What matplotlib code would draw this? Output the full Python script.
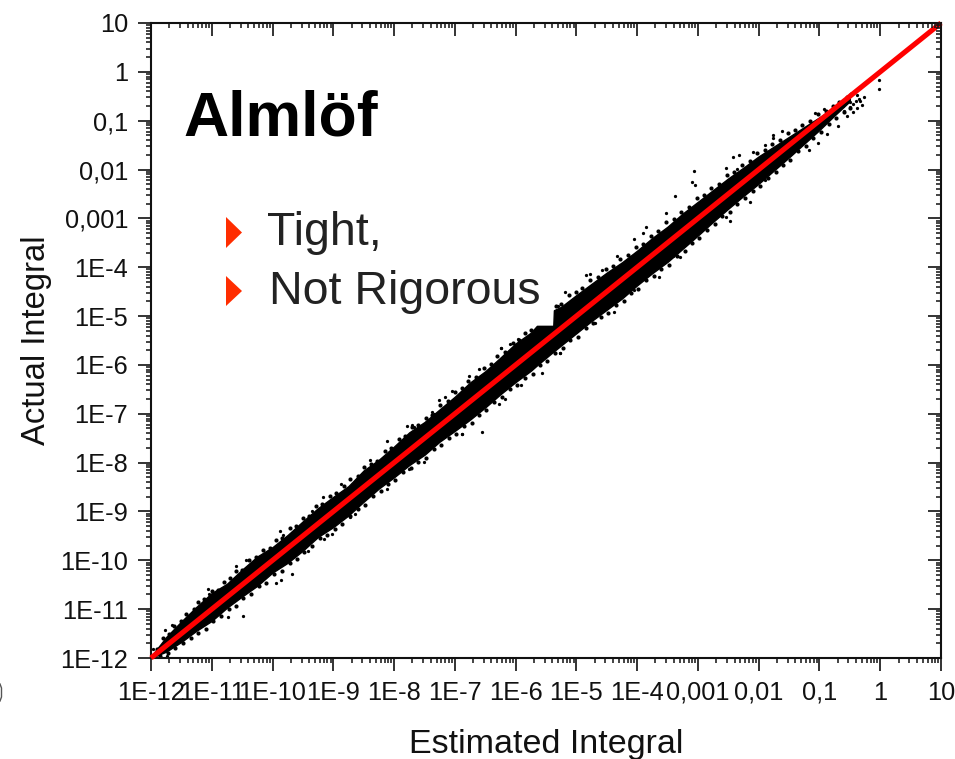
import numpy as np
import matplotlib
matplotlib.use('Agg')
from matplotlib import pyplot as plt
from matplotlib.lines import Line2D
from matplotlib.patches import Polygon
from matplotlib.ticker import FixedLocator, FixedFormatter, LogLocator, NullFormatter

plt.rcParams['font.family'] = ['Liberation Sans', 'DejaVu Sans']

W, H = 955, 759

tick_exp = [-12, -11, -10, -9, -8, -7, -6, -5, -4, -3, -2, -1, 0, 1]
tick_labels = ['1E-12', '1E-11', '1E-10', '1E-9', '1E-8', '1E-7', '1E-6', '1E-5',
               '1E-4', '0,001', '0,01', '0,1', '1', '10']

# dense part of the cloud: log10(estimated), and how far the edges sit from the diagonal
band_exp = [-12, -11.75, -11.5, -11.25, -11, -10.75, -10.5, -10.25, -10, -9.75, -9.5, -9.25,
            -9, -8.75, -8.5, -8.25, -8, -7.75, -7.5, -7.25, -7, -6.75, -6.5, -6.25, -6,
            -5.75, -5.65, -5.38, -5.37, -5.25, -5, -4.75, -4.5, -4.25, -4, -3.75, -3.5,
            -3.25, -3, -2.75, -2.5, -2.25, -2, -1.75, -1.5, -1.25, -1, -0.75, -0.5]
upper_gap = [0.03, 0.18, 0.25, 0.30, 0.33, 0.27, 0.31, 0.33, 0.27, 0.27, 0.30, 0.32,
             0.30, 0.27, 0.34, 0.31, 0.33, 0.37, 0.33, 0.34, 0.35, 0.39, 0.37, 0.40, 0.44,
             0.41, 0.45, 0.18, 0.49, 0.44, 0.43, 0.41, 0.39, 0.35, 0.34, 0.35, 0.33,
             0.35, 0.34, 0.33, 0.32, 0.29, 0.27, 0.22, 0.17, 0.12, 0.07, 0.02, 0.00]
lower_gap = [0.00, 0.12, 0.17, 0.19, 0.24, 0.22, 0.24, 0.27, 0.25, 0.30, 0.30, 0.27,
             0.32, 0.33, 0.30, 0.28, 0.30, 0.30, 0.34, 0.32, 0.35, 0.37, 0.37, 0.35, 0.35,
             0.37, 0.36, 0.35, 0.35, 0.35, 0.35, 0.35, 0.37, 0.39, 0.37, 0.37, 0.39,
             0.37, 0.35, 0.32, 0.30, 0.29, 0.29, 0.27, 0.25, 0.22, 0.19, 0.14, 0.10]

# loose dots on the rough edge of the band
upper_dots_est = [-11.9, -11.8, -11.7, -11.62, -11.5, -11.42, -11.3, -11.22, -11.12, -11.0, -10.9, -10.8,
                  -10.7, -10.6, -10.5, -10.38, -10.28, -10.15, -10.05, -9.95, -9.85, -9.72, -9.62, -9.5,
                  -9.4, -9.28, -9.18, -9.05, -8.95, -8.83, -8.72, -8.6, -8.5, -8.38, -8.28, -8.15,
                  -8.05, -7.92, -7.82, -7.7, -7.6, -7.48, -7.38, -7.25, -7.12, -7.0, -6.88, -6.78,
                  -6.65, -6.52, -6.4, -6.3, -6.18, -6.05, -5.95, -5.85, -5.75, -5.34, -5.25, -5.12,
                  -5.0, -4.9, -4.78, -4.65, -4.52, -4.4, -4.28, -4.15, -4.02, -3.9, -3.78, -3.65,
                  -3.52, -3.4, -3.28, -3.15, -3.02, -2.9, -2.78, -2.65, -2.52, -2.4, -2.28, -2.15,
                  -2.02, -1.9, -1.78, -1.65, -1.52, -1.4, -1.28, -1.15, -1.02, -0.9, -0.78, -0.68,
                  -0.55, -0.48]
upper_dots_gap = [0.08, 0.20, 0.20, 0.28, 0.26, 0.33, 0.30, 0.37, 0.32, 0.38, 0.30, 0.36,
                  0.33, 0.38, 0.31, 0.39, 0.35, 0.37, 0.31, 0.36, 0.30, 0.38, 0.33, 0.36,
                  0.31, 0.40, 0.34, 0.37, 0.32, 0.35, 0.38, 0.33, 0.40, 0.36, 0.32, 0.39,
                  0.35, 0.41, 0.37, 0.43, 0.38, 0.40, 0.35, 0.42, 0.39, 0.44, 0.40, 0.46,
                  0.41, 0.45, 0.42, 0.48, 0.44, 0.50, 0.45, 0.50, 0.47, 0.54, 0.50, 0.56,
                  0.50, 0.47, 0.52, 0.46, 0.48, 0.43, 0.45, 0.40, 0.43, 0.38, 0.42, 0.40,
                  0.44, 0.38, 0.42, 0.39, 0.43, 0.37, 0.41, 0.36, 0.40, 0.35, 0.37, 0.33,
                  0.36, 0.30, 0.30, 0.25, 0.26, 0.20, 0.20, 0.14, 0.15, 0.09, 0.08, 0.06,
                  0.04, 0.03]
lower_dots_est = [-11.85, -11.72, -11.6, -11.48, -11.35, -11.22, -11.1, -10.98, -10.85, -10.72, -10.6, -10.48,
                  -10.35, -10.22, -10.1, -9.98, -9.85, -9.72, -9.6, -9.48, -9.35, -9.22, -9.1, -8.98,
                  -8.85, -8.72, -8.6, -8.48, -8.35, -8.22, -8.1, -7.98, -7.85, -7.72, -7.6, -7.48,
                  -7.35, -7.22, -7.1, -6.98, -6.85, -6.72, -6.6, -6.48, -6.35, -6.22, -6.1, -5.98,
                  -5.85, -5.72, -5.6, -5.48, -5.35, -5.22, -5.1, -4.98, -4.85, -4.72, -4.6, -4.48,
                  -4.35, -4.22, -4.1, -3.98, -3.85, -3.72, -3.6, -3.48, -3.35, -3.22, -3.1, -2.98,
                  -2.85, -2.72, -2.6, -2.48, -2.35, -2.22, -2.1, -1.98, -1.85, -1.72, -1.6, -1.48,
                  -1.35, -1.22, -1.1, -0.98, -0.85, -0.72, -0.6, -0.5]
lower_dots_gap = [0.10, 0.17, 0.20, 0.22, 0.25, 0.27, 0.30, 0.27, 0.30, 0.28, 0.33, 0.30,
                  0.34, 0.30, 0.36, 0.31, 0.37, 0.34, 0.38, 0.34, 0.36, 0.33, 0.39, 0.37,
                  0.41, 0.38, 0.35, 0.38, 0.34, 0.37, 0.33, 0.38, 0.35, 0.40, 0.38, 0.42,
                  0.37, 0.41, 0.39, 0.44, 0.40, 0.46, 0.42, 0.45, 0.40, 0.44, 0.40, 0.44,
                  0.41, 0.46, 0.41, 0.43, 0.40, 0.44, 0.40, 0.44, 0.40, 0.43, 0.41, 0.46,
                  0.43, 0.47, 0.42, 0.46, 0.42, 0.45, 0.43, 0.47, 0.42, 0.45, 0.41, 0.43,
                  0.38, 0.40, 0.36, 0.38, 0.35, 0.37, 0.33, 0.36, 0.33, 0.34, 0.31, 0.32,
                  0.28, 0.30, 0.25, 0.26, 0.22, 0.23, 0.22, 0.25]

# stray points outside the dense band (log10 values)
stray_est = [-10.49, -10.73, -11.66, -11.77, -11.07, -11.05, -10.60, -10.43, -9.68, -9.94,
             -9.86, -9.88, -9.82, -9.41, -9.16, -9.02, -9.35, -9.17, -8.88, -8.72,
             -8.64, -8.39, -8.12, -8.12, -7.76, -7.68, -7.51, -7.35, -6.88, -11.96,
             -11.74, -6.55, -5.56, -5.27, -5.91, -6.18, -6.27, -6.24, -6.76, -7.05,
             -7.16, -7.26, -7.38, -7.79, -7.70, -5.96, -6.09, -6.60, -6.89, -0.02,
             -0.02, -0.26, -0.39, -0.30, -0.39, -0.55, -0.45, -0.69, -0.88, -1.02,
             -0.93, -1.08, -1.62, -1.77, -1.77, -1.89, -2.09, -2.33, -2.43, -2.53,
             -2.36, -3.06, -3.10, -3.04, -3.37, -3.52, -3.86, -3.91, -4.05, -4.33,
             -4.84, -4.78, -4.58, -5.19, -5.31, -6.24, -2.47, -2.15, -2.53, -3.29,
             -3.41, -3.64, -4.06, -4.38, -4.69, -5.27, -1.18, -1.89, -0.45, -0.50,
             -0.40, -0.35, -0.60, -0.62, -0.50, -0.33]
stray_act = [-11.14, -11.16, -11.32, -11.43, -10.59, -10.68, -10.12, -9.99, -10.29, -10.46,
             -10.41, -9.39, -9.49, -9.80, -9.56, -9.46, -9.00, -8.71, -8.43, -9.11,
             -9.05, -7.95, -7.55, -8.53, -8.13, -7.27, -7.99, -7.00, -7.41, -11.81,
             -11.95, -7.37, -6.16, -5.75, -6.41, -6.70, -6.81, -5.66, -6.23, -6.53,
             -6.65, -6.72, -6.96, -7.26, -7.22, -5.46, -5.58, -6.09, -7.42, -0.17,
             -0.36, -0.52, -0.48, -0.68, -0.75, -0.91, -0.82, -1.11, -1.27, -1.45,
             -0.77, -0.85, -1.21, -1.30, -1.36, -1.50, -1.65, -1.70, -1.74, -1.96,
             -1.98, -2.03, -2.26, -2.32, -2.54, -2.88, -3.17, -3.29, -3.42, -3.76,
             -4.16, -4.14, -4.06, -4.51, -4.79, -5.66, -3.05, -2.66, -2.97, -3.80,
             -3.78, -4.19, -4.46, -4.91, -5.15, -5.75, -1.60, -2.22, -0.65, -0.62,
             -0.60, -0.55, -0.80, -0.70, -0.72, -0.60]

diag_exp = [-12, 1]


def fx(px):
    return px / W


def fy(py):
    return 1 - py / H


band_exp = np.array(band_exp)
upper = 10.0 ** (band_exp + np.array(upper_gap))
lower = 10.0 ** (band_exp - np.array(lower_gap))
diag = 10.0 ** np.array(diag_exp, dtype=float)
up_x = np.array(upper_dots_est)
low_x = np.array(lower_dots_est)
up_y = up_x + np.array(upper_dots_gap)
low_y = low_x - np.array(lower_dots_gap)

fig = plt.figure(figsize=(W / 100, H / 100), dpi=100, facecolor='white')
rect = [fx(151), fy(658), fx(941) - fx(151), fy(23) - fy(658)]
ax = fig.add_axes(rect)
top = fig.add_axes(rect, frameon=False)

for a in (ax, top):
    a.set_xscale('log')
    a.set_yscale('log')
    a.set_xlim(1e-12, 10)
    a.set_ylim(1e-12, 10)
    for axis in (a.xaxis, a.yaxis):
        axis.set_major_locator(FixedLocator(10.0 ** np.array(tick_exp, dtype=float)))
        axis.set_minor_locator(LogLocator(base=10, subs=np.arange(2, 10), numticks=40))
        axis.set_minor_formatter(NullFormatter())

ax.xaxis.set_major_formatter(FixedFormatter(tick_labels))
ax.yaxis.set_major_formatter(FixedFormatter(tick_labels))
ax.tick_params(which='major', direction='out', length=9.5, width=1.2, labelsize=18.3, pad=7, colors='#111111')
ax.tick_params(which='minor', direction='out', length=3.8, width=1.1, colors='#111111')
top.xaxis.tick_top()
top.yaxis.tick_right()
top.tick_params(which='major', direction='in', length=9.5, width=1.2, labeltop=False, labelright=False, colors='#111111')
top.tick_params(which='minor', direction='in', length=3.8, width=1.1, colors='#111111')

for s in ax.spines.values():
    s.set_linewidth(1.5)
    s.set_color('#111111')

ax.fill_between(10.0 ** band_exp, lower, upper, color='black', lw=1, zorder=2)
ax.scatter(10.0 ** up_x, 10.0 ** up_y, s=9, c='black', lw=0, zorder=2)
ax.scatter(10.0 ** low_x, 10.0 ** low_y, s=9, c='black', lw=0, zorder=2)
ax.scatter(10.0 ** np.array(stray_est), 10.0 ** np.array(stray_act), s=5.5, c='black', lw=0, zorder=2)
ax.plot(diag, diag, color='#ff0000', lw=3.7, solid_capstyle='butt', clip_on=False, zorder=5)

ax.set_xlabel('Estimated Integral', fontsize=24.5, labelpad=17, color='#111111')
ax.set_ylabel('Actual Integral', fontsize=23.6, labelpad=6, color='#111111')

fig.text(fx(183), fy(135), 'Almlöf', fontsize=45, fontweight='bold', color='black', va='baseline')
fig.text(fx(267), fy(245), 'Tight,', fontsize=33.5, color='#222222', va='baseline')
fig.text(fx(269), fy(304), 'Not Rigorous', fontsize=33.5, color='#222222', va='baseline')

# bit of a cut off glyph at the left edge of the slide
fig.add_artist(Line2D([fx(0), fx(1.5), fx(1.5), fx(0)], [fy(684), fy(688), fy(697), fy(701)],
                      color='#555555', lw=1))

for y0, y1 in ((217, 248), (276, 306)):
    pts = [(fx(226), fy(y0)), (fx(242), fy((y0 + y1) / 2)), (fx(226), fy(y1))]
    fig.add_artist(Polygon(pts, closed=True, transform=fig.transFigure, facecolor='#ff2d00', edgecolor='none'))

fig.savefig('out.png', dpi=100)
